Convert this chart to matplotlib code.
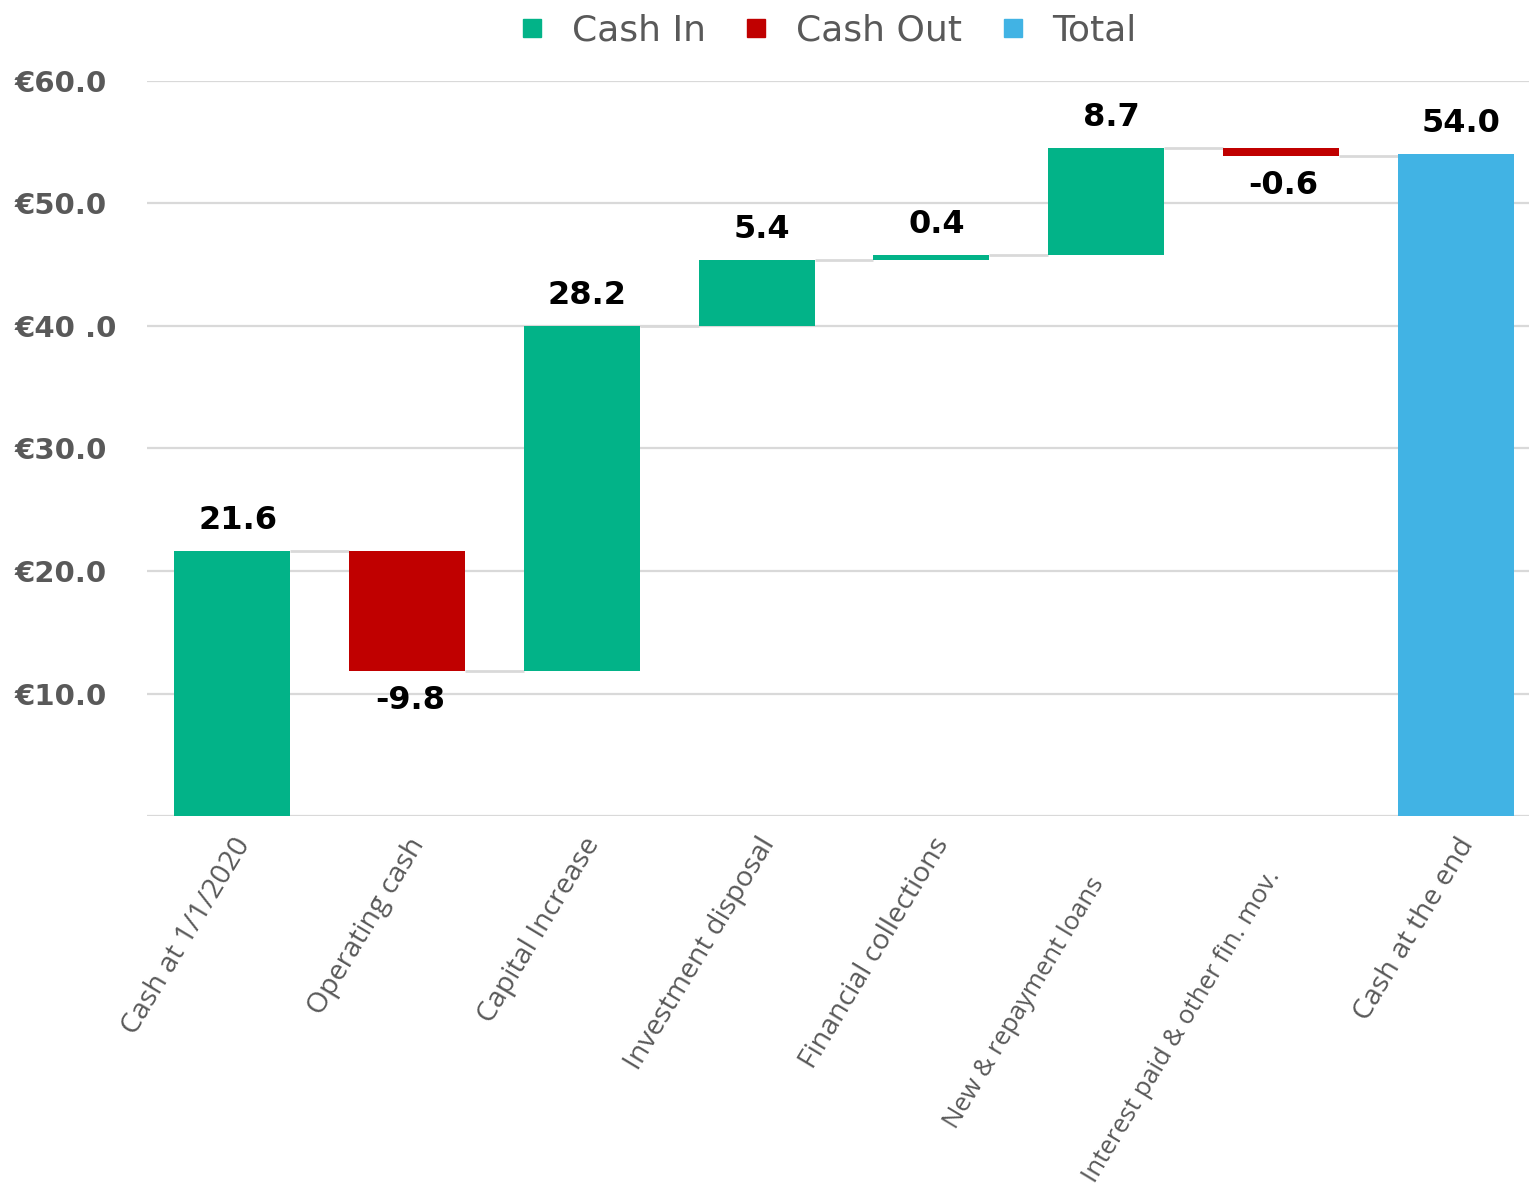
import numpy as np
import matplotlib.pyplot as plt
from matplotlib.lines import Line2D
from matplotlib.transforms import ScaledTranslation

# data
categories = ["Cash at 1/1/2020", "Operating cash", "Capital Increase",
              "Investment disposal", "Financial collections",
              "New & repayment loans", "Interest paid & other fin. mov.",
              "Cash at the end"]
changes = [21.6, -9.8, 28.2, 5.4, 0.4, 8.7, -0.6]
total = 54.0
value_labels = ["21.6", "-9.8", "28.2", "5.4", "0.4", "8.7", "-0.6", "54.0"]
ytick_vals = [10, 20, 30, 40, 50, 60]
ytick_labels = ["€10.0", "€20.0", "€30.0", "€40 .0", "€50.0", "€60.0"]

GREEN = "#02B388"
RED = "#C00000"
BLUE = "#41B3E4"
GRID = "#D9D9D9"
GRAY = "#595959"

fig = plt.figure(figsize=(15.29, 11.89), dpi=100)
ax = fig.add_axes([0.096, 0.3137, 0.904, 0.6182])

w = 0.664
x = np.arange(len(categories))

# waterfall bottoms / heights
cum = np.cumsum(changes)
starts = np.concatenate(([0], cum[:-1]))
bottoms = []
heights = []
colors = []
for s, c in zip(starts, changes):
    bottoms.append(min(s, s + c))
    heights.append(abs(c))
    colors.append(GREEN if c >= 0 else RED)
bottoms.append(0)
heights.append(total)
colors.append(BLUE)

ax.bar(x, heights, bottom=bottoms, width=w, color=colors, zorder=3)

# connectors
for i, lv in enumerate(cum):
    ax.hlines(lv, x[i] + w / 2, x[i + 1] - w / 2, color=GRID, lw=2, zorder=2)

# value labels
for i, lab in enumerate(value_labels):
    top = bottoms[i] + heights[i]
    if i < len(changes) and changes[i] < 0:
        ax.annotate(lab, (x[i], bottoms[i]), xytext=(2, -10), textcoords="offset points",
                    ha="center", va="top", fontsize=23, fontweight="bold", color="black")
    else:
        ax.annotate(lab, (x[i], top), xytext=(4, 11), textcoords="offset points",
                    ha="center", va="bottom", fontsize=23, fontweight="bold", color="black")

ax.set_xlim(-0.49, 7.42)
ax.set_ylim(0, 60)
ax.set_yticks(ytick_vals)
ax.set_yticklabels(ytick_labels, fontsize=21, fontweight="bold", color=GRAY)
ax.yaxis.grid(True, color=GRID, lw=1.6, zorder=0)
ax.axhline(0, color=GRID, lw=1.6, zorder=1)
ax.set_axisbelow(True)
for sp in ax.spines.values():
    sp.set_visible(False)
ax.tick_params(axis="both", length=0)
ax.tick_params(axis="y", pad=95)
ax.tick_params(axis="x", pad=12)
for t in ax.get_yticklabels():
    t.set_horizontalalignment("left")

ax.set_xticks(x)
ax.set_xticklabels(categories, rotation=59, ha="right", rotation_mode="anchor",
                   fontsize=20.5, color=GRAY, family="Open Sans")
# the two long labels sit smaller and lower in the original
shifts = {"New & repayment loans": (-0.18, -0.40),
          "Interest paid & other fin. mov.": (-0.17, -0.33)}
for t, lab in zip(ax.get_xticklabels(), categories):
    if lab in shifts:
        t.set_fontsize(18.5)
        dx, dy = shifts[lab]
        t.set_transform(t.get_transform() + ScaledTranslation(dx, dy, fig.dpi_scale_trans))

# legend
handles = [Line2D([], [], marker="s", ls="", color=GREEN, markersize=13),
           Line2D([], [], marker="s", ls="", color=RED, markersize=13),
           Line2D([], [], marker="s", ls="", color=BLUE, markersize=13)]
fig.legend(handles, ["Cash In", "Cash Out", "Total"], loc="center",
           bbox_to_anchor=(0.541, 0.974), ncol=3, frameon=False,
           fontsize=26, labelcolor=GRAY, handlelength=0.8,
           handletextpad=0.7, columnspacing=1.0)

fig.savefig("out.png", dpi=100)
